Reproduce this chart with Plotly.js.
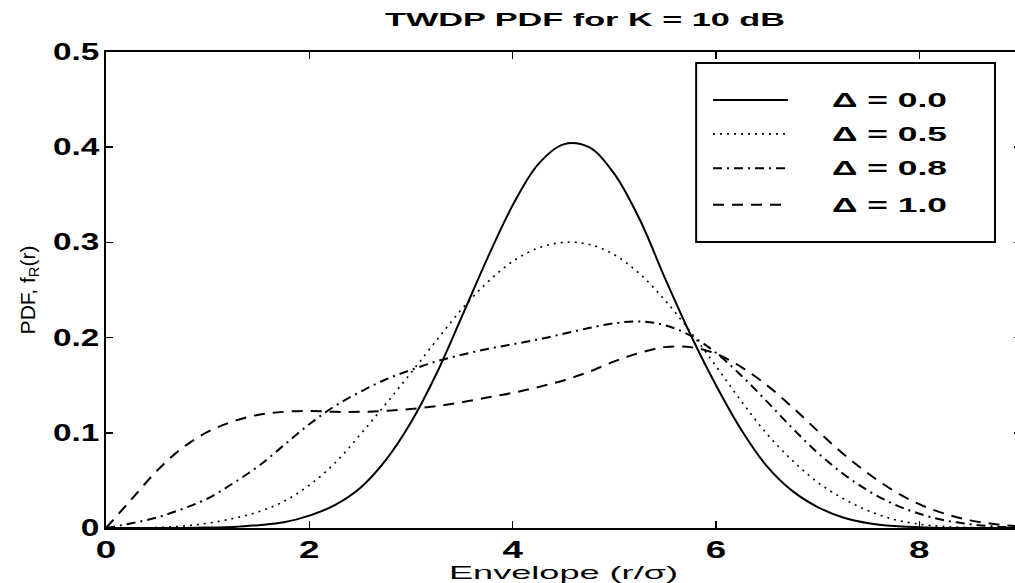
<!DOCTYPE html>
<html>
<head>
<meta charset="utf-8">
<script src="https://cdn.plot.ly/plotly-3.0.1.min.js"></script>
<style>
  html, body { margin: 0; padding: 0; background: #ffffff; overflow: hidden; }
  #chart { width: 1021px; height: 583px; }
</style>
</head>
<body>
<div id="chart"></div>
<script>
// ---- data ----
const envelope = [0, 0.25, 0.5, 0.75, 1, 1.25, 1.5, 1.75, 2, 2.25, 2.5, 2.75, 3, 3.25, 3.5, 3.75, 4, 4.25, 4.5, 4.75, 5, 5.25, 5.5, 5.75, 6, 6.25, 6.5, 6.75, 7, 7.25, 7.5, 7.75, 8, 8.25, 8.5, 8.75, 9];

const pdfDelta00 = [0, 0, 0, 0, 0.0005, 0.001, 0.003, 0.006, 0.013, 0.024, 0.042, 0.071, 0.111, 0.162, 0.222, 0.283, 0.339, 0.382, 0.403, 0.400, 0.372, 0.324, 0.262, 0.203, 0.150, 0.103, 0.065, 0.039, 0.022, 0.011, 0.005, 0.002, 0.0008, 0, 0, 0, 0];
const pdfDelta05 = [0, 0, 0.0005, 0.002, 0.005, 0.010, 0.017, 0.028, 0.045, 0.068, 0.098, 0.130, 0.163, 0.197, 0.230, 0.258, 0.280, 0.294, 0.300, 0.298, 0.287, 0.267, 0.239, 0.206, 0.170, 0.133, 0.099, 0.071, 0.048, 0.031, 0.018, 0.009, 0.004, 0.0015, 0.0005, 0, 0];
const pdfDelta08 = [0, 0.005, 0.011, 0.020, 0.031, 0.047, 0.065, 0.087, 0.109, 0.128, 0.143, 0.156, 0.166, 0.175, 0.182, 0.188, 0.193, 0.198, 0.204, 0.210, 0.215, 0.217, 0.213, 0.202, 0.184, 0.160, 0.133, 0.105, 0.079, 0.057, 0.039, 0.025, 0.015, 0.008, 0.004, 0.0015, 0.0005];
const pdfDelta10 = [0, 0.030, 0.060, 0.084, 0.101, 0.112, 0.119, 0.122, 0.123, 0.122, 0.122, 0.123, 0.125, 0.128, 0.132, 0.137, 0.142, 0.148, 0.155, 0.164, 0.175, 0.184, 0.190, 0.190, 0.183, 0.169, 0.150, 0.127, 0.102, 0.078, 0.057, 0.039, 0.025, 0.015, 0.008, 0.004, 0.0015];

const seriesLabels = ['\u0394 = 0.0', '\u0394 = 0.5', '\u0394 = 0.8', '\u0394 = 1.0'];
const xTickVals = [0, 2, 4, 6, 8];
const xTickLabels = ['0', '2', '4', '6', '8'];
const yTickVals = [0, 0.1, 0.2, 0.3, 0.4, 0.5];
const yTickLabels = ['0', '0.1', '0.2', '0.3', '0.4', '0.5'];
const chartTitle = 'TWDP PDF for K = 10 dB';
const xTitle = 'Envelope (r/\u03c3)';
const yTitle = 'PDF, f<sub>R</sub>(r)';

// ---- styles ----
const lineStyles = [
  { dash: 'solid', width: 2 },
  { dash: '2px,5px', width: 1.6 },
  { dash: '9px,5px,2px,5px', width: 2 },
  { dash: '11px,8px', width: 2 }
];
const seriesValues = [pdfDelta00, pdfDelta05, pdfDelta08, pdfDelta10];

const traces = seriesValues.map((vals, i) => ({
  type: 'scatter', mode: 'lines', x: envelope, y: vals, name: seriesLabels[i],
  line: { color: '#000000', width: lineStyles[i].width, dash: lineStyles[i].dash, shape: 'spline', smoothing: 1 },
  showlegend: false, hoverinfo: 'skip'
}));

// custom legend (box, samples, labels) in paper coordinates
const legRows = [0.899, 0.828, 0.756, 0.679];
const shapes = [{
  type: 'rect', xref: 'paper', yref: 'paper', x0: 0.645, x1: 0.9716, y0: 0.601, y1: 0.977,
  line: { color: '#000000', width: 2 }, fillcolor: '#ffffff', layer: 'above'
}];
const annotations = [];
seriesLabels.forEach((lab, i) => {
  shapes.push({ type: 'line', xref: 'paper', yref: 'paper', x0: 0.6634, x1: 0.7454, y0: legRows[i], y1: legRows[i],
    line: { color: '#000000', width: lineStyles[i].width, dash: lineStyles[i].dash }, layer: 'above' });
  annotations.push({ xref: 'paper', yref: 'paper', x: 0.8568, y: legRows[i], xanchor: 'center', yanchor: 'middle',
    text: lab, showarrow: false, font: { family: 'Liberation Sans, Arial, sans-serif', size: 20, weight: 'bold', color: '#000000' } });
});

const tickFont = { family: 'Liberation Sans, Arial, sans-serif', size: 23, weight: 'bold', color: '#000000' };

const layout = {
  width: 1021, height: 583,
  margin: { l: 106, r: 0, t: 52, b: 55 },
  paper_bgcolor: '#ffffff', plot_bgcolor: '#ffffff',
  showlegend: false,
  title: { text: chartTitle, xref: 'paper', x: 0.5235, xanchor: 'center', yref: 'container', y: 0.967, yanchor: 'middle',
    font: { family: 'Liberation Sans, Arial, sans-serif', size: 19, weight: 'bold', color: '#000000' } },
  xaxis: {
    range: [0, 9], tickvals: xTickVals, ticktext: xTickLabels, ticks: 'inside', ticklen: 7, tickwidth: 1.5, tickcolor: '#000000',
    showline: true, linewidth: 2, linecolor: '#000000', mirror: 'ticks', showgrid: false, zeroline: false,
    tickfont: tickFont,
    title: { text: xTitle, standoff: 3, font: { family: 'Liberation Sans, Arial, sans-serif', size: 19, color: '#000000' } }
  },
  yaxis: {
    range: [0, 0.5], tickvals: yTickVals, ticktext: yTickLabels, ticks: 'inside', ticklen: 7, tickwidth: 1.5, tickcolor: '#000000',
    showline: true, linewidth: 2, linecolor: '#000000', mirror: 'ticks', showgrid: false, zeroline: false,
    tickfont: tickFont,
    title: { text: yTitle, standoff: 26, font: { family: 'Liberation Sans, Arial, sans-serif', size: 21, color: '#000000' } }
  },
  shapes: shapes,
  annotations: annotations
};

function stretch(sel, k) {
  document.querySelectorAll(sel).forEach(t => {
    const L = t.getComputedTextLength();
    if (L > 0) {
      t.setAttribute('textLength', (L * k).toFixed(1));
      t.setAttribute('lengthAdjust', 'spacingAndGlyphs');
    }
  });
}
function stretchTo(sel, w) {
  document.querySelectorAll(sel).forEach(t => {
    if (t.getComputedTextLength() > 0) {
      t.setAttribute('textLength', String(w));
      t.setAttribute('lengthAdjust', 'spacingAndGlyphs');
    }
  });
}

Plotly.newPlot('chart', traces, layout, { staticPlot: true, displayModeBar: false }).then(() => {
  stretchTo('text.gtitle', 400);
  stretch('.xtick text', 1.6);
  stretch('.ytick text', 1.45);
  stretchTo('text.xtitle', 229);
  stretchTo('.annotation text', 115);
});
</script>
</body>
</html>
